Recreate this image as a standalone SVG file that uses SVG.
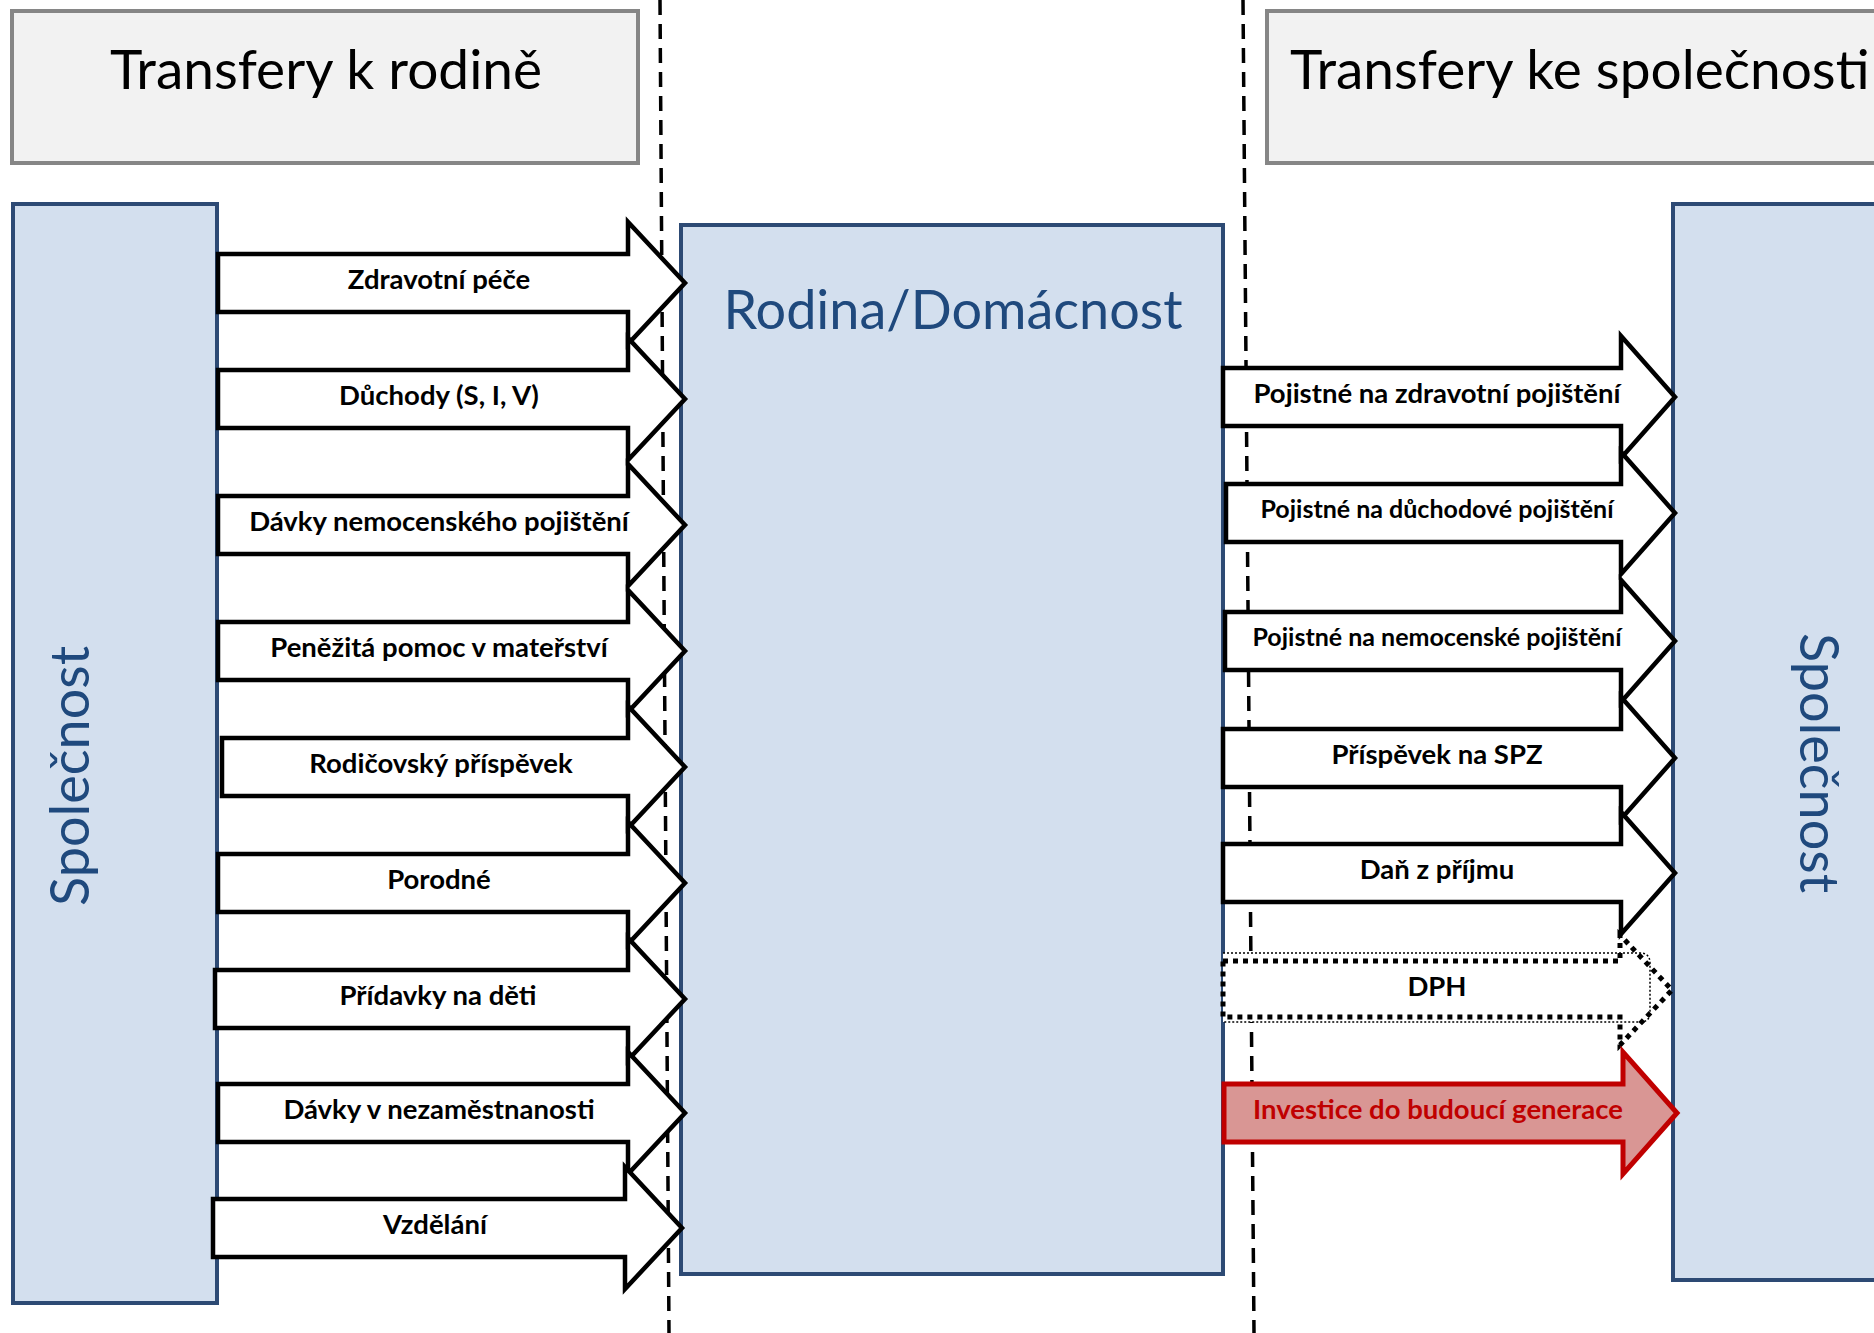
<svg xmlns="http://www.w3.org/2000/svg" width="1874" height="1333" viewBox="0 0 1874 1333">
<style>
.title{fill:#f2f2f2;stroke:#868686;stroke-width:4}
.ttxt{font-family:Lato,"Open Sans",sans-serif;font-size:55px;fill:#000}
.box{fill:#d3dfee;stroke:#2d4a74;stroke-width:4}
.btxt{font-family:Lato,"Open Sans",sans-serif;font-size:54px;fill:#1f497d}
.arr{fill:#fff;stroke:#000;stroke-width:4.5;stroke-linejoin:miter}
.lbl{font-family:Lato,"Open Sans",sans-serif;font-weight:bold;font-size:27.5px;fill:#000;text-anchor:middle}
.sm{font-size:25px}
.dash{stroke:#000;stroke-width:3.5;stroke-dasharray:15 9;fill:none}
</style>
<rect width="1874" height="1333" fill="#fff"/>
<g id="title-left"><rect class="title" x="12" y="11" width="626" height="152"/><text class="ttxt" x="326" y="89" text-anchor="middle">Transfery k rodině</text></g>
<g id="title-right"><rect class="title" x="1267" y="11" width="700" height="152"/><text class="ttxt" x="1290" y="89">Transfery ke společnosti</text></g>
<g id="dividers"><line class="dash" x1="660" y1="0" x2="669" y2="1333"/><line class="dash" x1="1243" y1="0" x2="1254" y2="1333"/></g>
<g id="spolecnost-left"><rect class="box" x="13" y="204" width="204" height="1099"/><text class="btxt" transform="translate(89,776) rotate(-90)" text-anchor="middle">Společnost</text></g>
<g id="rodina"><rect class="box" x="681" y="225" width="542" height="1049"/><text class="btxt" x="953" y="329" text-anchor="middle">Rodina/Domácnost</text></g>
<g id="spolecnost-right"><rect class="box" x="1673" y="204" width="260" height="1076"/><text class="btxt" transform="translate(1800,763) rotate(90)" text-anchor="middle">Společnost</text></g>
<g id="connectors">
<g id="a1"><polygon class="arr" points="218,254 628,254 628,222 685,283 628,344 628,312 218,312"/><text class="lbl" x="439" y="289">Zdravotní péče</text></g>
<g id="a2"><polygon class="arr" points="218,370 628,370 628,338 685,399 628,460 628,428 218,428"/><text class="lbl" x="439" y="405">Důchody (S, I, V)</text></g>
<g id="a3"><polygon class="arr" points="218,496 628,496 628,464 685,525 628,586 628,554 218,554"/><text class="lbl" x="439" y="531">Dávky nemocenského pojištění</text></g>
<g id="a4"><polygon class="arr" points="218,622 628,622 628,590 685,651 628,712 628,680 218,680"/><text class="lbl" x="439" y="657">Peněžitá pomoc v mateřství</text></g>
<g id="a5"><polygon class="arr" points="222,738 628,738 628,706 685,767 628,828 628,796 222,796"/><text class="lbl" x="441" y="773">Rodičovský příspěvek</text></g>
<g id="a6"><polygon class="arr" points="218,854 628,854 628,822 685,883 628,944 628,912 218,912"/><text class="lbl" x="439" y="889">Porodné</text></g>
<g id="a7"><polygon class="arr" points="215,970 628,970 628,938 685,999 628,1060 628,1028 215,1028"/><text class="lbl" x="438" y="1005">Přídavky na děti</text></g>
<g id="a8"><polygon class="arr" points="218,1084 628,1084 628,1052 685,1113 628,1174 628,1142 218,1142"/><text class="lbl" x="439" y="1119">Dávky v nezaměstnanosti</text></g>
<g id="a9"><polygon class="arr" points="213,1199 625,1199 625,1167 682,1228 625,1289 625,1257 213,1257"/><text class="lbl" x="435" y="1234">Vzdělání</text></g>
<g id="b1"><polygon class="arr" points="1223,368 1621,368 1621,336 1675,397 1621,458 1621,426 1223,426"/><text class="lbl" x="1437" y="403">Pojistné na zdravotní pojištění</text></g>
<g id="b2"><polygon class="arr" points="1226,484 1621,484 1621,452 1675,513 1621,574 1621,542 1226,542"/><text class="lbl sm" x="1437" y="518">Pojistné na důchodové pojištění</text></g>
<g id="b3"><polygon class="arr" points="1225,612 1621,612 1621,580 1675,641 1621,702 1621,670 1225,670"/><text class="lbl sm" x="1437" y="646">Pojistné na nemocenské pojištění</text></g>
<g id="b4"><polygon class="arr" points="1223,729 1621,729 1621,697 1675,758 1621,819 1621,787 1223,787"/><text class="lbl" x="1437" y="764">Příspěvek na SPZ</text></g>
<g id="b5"><polygon class="arr" points="1223,844 1621,844 1621,812 1675,873 1621,934 1621,902 1223,902"/><text class="lbl" x="1437" y="879">Daň z příjmu</text></g>
<g id="b6"><path d="M1223,953 H1640 Q1650,953 1650,963 V1012 Q1650,1022 1640,1022 H1223" fill="#fff" stroke="#000" stroke-width="1.5" stroke-dasharray="2 2"/><polygon points="1223,961 1620,961 1620,935 1672,990 1620,1045 1620,1017 1223,1017" fill="none" stroke="#000" stroke-width="5" stroke-dasharray="5 5"/><text class="lbl" x="1437" y="996">DPH</text></g>
<g id="b7"><polygon points="1224,1084 1623,1084 1623,1052 1677,1113 1623,1174 1623,1142 1224,1142" fill="#d99694" stroke="#c00000" stroke-width="5"/><text class="lbl" x="1438" y="1119" style="fill:#c00000">Investice do budoucí generace</text></g>
</g>
</svg>
